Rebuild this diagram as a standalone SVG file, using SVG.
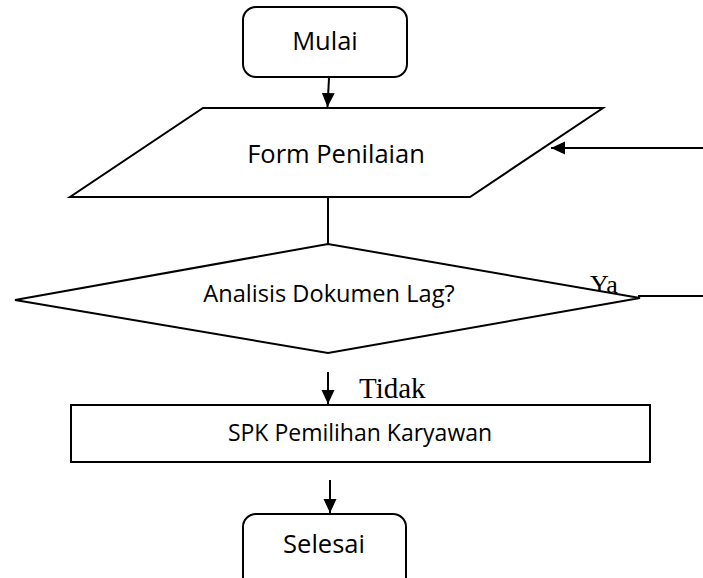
<svg xmlns="http://www.w3.org/2000/svg" width="703" height="578" viewBox="0 0 703 578">
<style>
.s{fill:#fff;stroke:#000;stroke-width:2}
.l{fill:none;stroke:#000;stroke-width:2}
.t{font-family:"Open Sans","Noto Sans",sans-serif;font-size:25.5px;fill:#000;text-anchor:middle}
.r{font-family:"Liberation Serif","Times New Roman",serif;fill:#000}
</style>
<defs>
<marker id="ah" markerUnits="userSpaceOnUse" markerWidth="16" markerHeight="16" viewBox="0 0 16 16" refX="14" refY="8" orient="auto">
<path d="M0,1.5 L14,8 L0,14.5 Z" fill="#000"/>
</marker>
</defs>
<rect width="703" height="578" fill="#fff"/>
<g id="connectors">
<line class="l" x1="329" y1="78" x2="327.5" y2="107" marker-end="url(#ah)"/>
<line class="l" x1="703" y1="148" x2="551" y2="148" marker-end="url(#ah)"/>
<line class="l" x1="328" y1="197" x2="328" y2="244"/>
<line class="l" x1="638" y1="296" x2="703" y2="296"/>
<line class="l" x1="328" y1="372" x2="328" y2="404" marker-end="url(#ah)"/>
<line class="l" x1="330" y1="480" x2="330" y2="513" marker-end="url(#ah)"/>
<text class="r" x="590" y="293" font-size="26">Ya</text>
<text class="r" x="359" y="398" font-size="29">Tidak</text>
</g>
<g id="mulai">
<rect class="s" x="243" y="7" width="164" height="70" rx="13"/>
<text class="t" x="325" y="50">Mulai</text>
</g>
<g id="form-penilaian">
<polygon class="s" points="203,108 603,108 470,197 70,197"/>
<text class="t" x="336" y="163">Form Penilaian</text>
</g>
<g id="analisis">
<polygon class="s" points="15,300 328,244 640,298 328,353"/>
<text class="t" x="329" y="302" style="font-size:23.6px">Analisis Dokumen Lag?</text>
</g>
<g id="spk">
<rect class="s" x="71" y="405" width="579" height="57"/>
<text class="t" x="360" y="441" style="font-size:23px">SPK Pemilihan Karyawan</text>
</g>
<g id="selesai">
<rect class="s" x="243" y="514" width="163" height="90" rx="13"/>
<text class="t" x="324" y="553">Selesai</text>
</g>
</svg>
